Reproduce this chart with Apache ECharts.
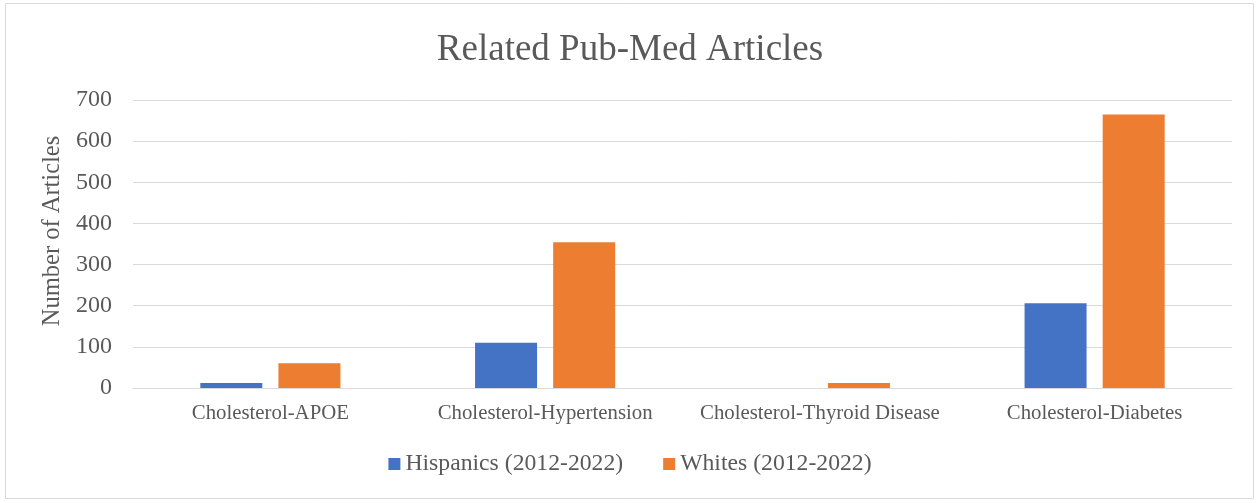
<!DOCTYPE html>
<html>
<head>
<meta charset="utf-8">
<script src="https://cdn.jsdelivr.net/npm/echarts@6/dist/echarts.min.js"></script>
<style>
html,body{margin:0;padding:0;background:#fff;}
#chart{width:1260px;height:503px;}
</style>
</head>
<body>
<div id="chart"></div>
<script>
var categories = ['Cholesterol-APOE', 'Cholesterol-Hypertension', 'Cholesterol-Thyroid Disease', 'Cholesterol-Diabetes'];
var hispanics = [12, 110, 0, 206];
var whites = [60, 354, 12, 665];
var seriesNames = ['Hispanics (2012-2022)', 'Whites (2012-2022)'];

var serif = '"Liberation Serif", "Times New Roman", serif';
var grey = '#595959';

var myChart = echarts.init(document.getElementById('chart'));
var option = {
    animation: false,
    textStyle: {fontFamily: serif},
    title: {
        text: 'Related Pub-Med Articles',
        left: 'center',
        top: 27,
        textStyle: {fontFamily: serif, fontSize: 37, fontWeight: 'normal', color: grey}
    },
    graphic: [{
        type: 'rect',
        shape: {x: 5.5, y: 3.5, width: 1248, height: 495},
        style: {fill: 'none', stroke: '#d9d9d9', lineWidth: 1},
        silent: true
    }],
    legend: {
        bottom: 22,
        left: 'center',
        itemWidth: 12,
        itemHeight: 12,
        itemGap: 40,
        icon: 'rect',
        textStyle: {fontFamily: serif, fontSize: 23.7, color: grey},
        data: seriesNames
    },
    grid: {left: 133, right: 28, top: 100, bottom: 115},
    xAxis: {
        type: 'category',
        data: categories,
        axisLine: {lineStyle: {color: '#d9d9d9', width: 1}},
        axisTick: {show: false},
        axisLabel: {fontFamily: serif, fontSize: 20.8, color: grey, margin: 15, interval: 0}
    },
    yAxis: {
        type: 'value',
        min: 0,
        max: 700,
        interval: 100,
        name: 'Number of Articles',
        nameLocation: 'middle',
        nameGap: 66,
        nameTextStyle: {fontFamily: serif, fontSize: 24.5, color: grey, padding: [0, 0, 0, 26]},
        axisLine: {show: false},
        axisTick: {show: false},
        axisLabel: {fontFamily: serif, fontSize: 24, color: grey, margin: 21},
        splitLine: {lineStyle: {color: '#d9d9d9', width: 1}}
    },
    series: [
        {
            name: seriesNames[0],
            type: 'bar',
            data: hispanics,
            barGap: '26%',
            barCategoryGap: '49%',
            itemStyle: {color: '#4472c4'}
        },
        {
            name: seriesNames[1],
            type: 'bar',
            data: whites,
            itemStyle: {color: '#ed7d31'}
        }
    ]
};
myChart.setOption(option);
</script>
</body>
</html>
